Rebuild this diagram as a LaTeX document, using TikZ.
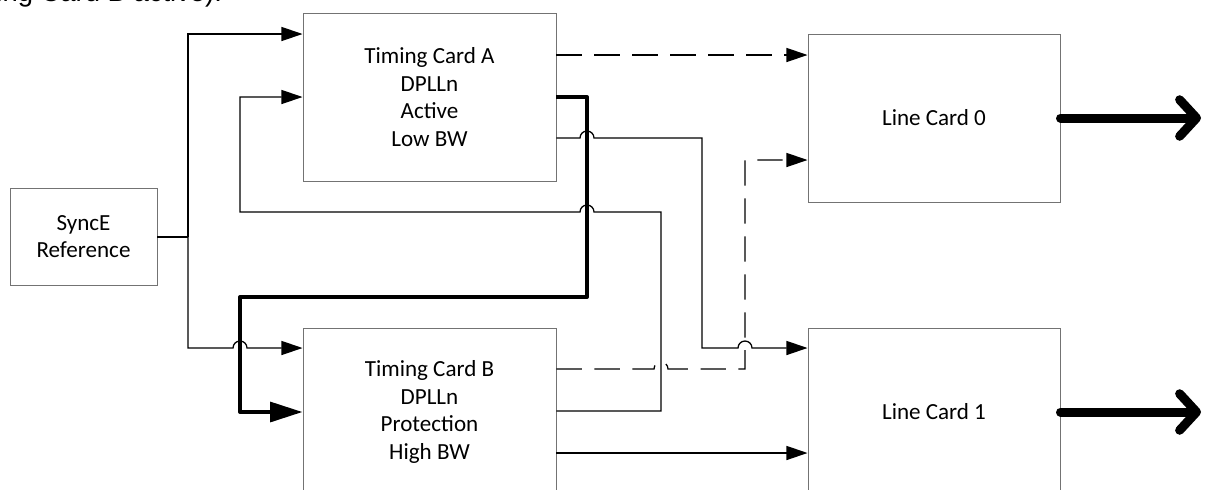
\documentclass[tikz,border=0pt]{standalone}
\usepackage{fontspec}
\setmainfont{Carlito}
\newfontfamily\capfont{Liberation Sans}
\usetikzlibrary{positioning}
\usetikzlibrary{arrows.meta}

\begin{document}
\begin{tikzpicture}[
  x=0.025cm, y=-0.025cm,
  font=\fontsize{16.4}{19.6}\selectfont,
  card/.style={draw=black!55, line width=0.7pt, align=center,
    minimum width=253*0.025cm, minimum height=168*0.025cm, inner sep=0pt},
  wire/.style={line width=0.9pt},
  dashwire/.style={wire, dash pattern=on 18pt off 9pt},
  tip/.style={-{Triangle[length=15pt,width=10pt]}},
  bigtip/.style={-{Triangle[length=23pt,width=14pt]}},
  heavy/.style={line width=2.8pt, line join=round},
  outarrow/.style={line width=6.4pt, line cap=round,
    -{Straight Barb[length=12pt,width=26pt,round]}},
]
  \useasboundingbox (0,0) rectangle (1206,489);
  \clip (0,0) rectangle (1206,489);

  \node[font=\capfont\fontsize{19.5}{22}\selectfont, anchor=base east]
    (cap) at (227,1) {ing Card B active).};

  \node[card, minimum width=147*0.025cm, minimum height=97*0.025cm]
    (sync) at (83.5,236.5) {SyncE\\Reference};
  \node[card] (tca) at (429.5,97) {Timing Card A\\DPLLn\\Active\\Low BW};
  \node[card] (tcb) at (429.5,412) {Timing Card B\\DPLLn\\Protection\\High BW};
  \node[card, minimum width=252*0.025cm] (lc0) at (934,118) {Line Card 0};
  \node[card, minimum width=252*0.025cm] (lc1) at (934,412) {Line Card 1};

  \coordinate (split) at (188,237);

  % reference to both timing cards
  \draw[wire] (sync.east |- split) -- (split);
  \draw[wire,tip] (split) |- (tca.west |- 0,34);
  \draw[wire,tip] (split) -- (188,348) -- (233,348)
    arc[start angle=180,end angle=360,radius=7] -- (tcb.west |- 0,348);

  % active card locks the protection card
  \draw[heavy,bigtip] (tca.east |- 0,97) -| (587,297) -| (240,412) -- (tcb.west |- 0,412);

  % protection card back to active card
  \draw[wire,tip] (tcb.east |- 0,411) -| (661,212) -- (594,212)
    arc[start angle=0,end angle=-180,radius=7] -- (240,212) |- (tca.west |- 0,97);

  % timing card outputs
  \draw[dashwire,tip] (tca.east |- 0,55) -- (lc0.west |- 0,55);
  \draw[wire,tip] (tca.east |- 0,138) -- (580,138)
    arc[start angle=180,end angle=360,radius=7] -| (702,348) -- (738,348)
    arc[start angle=180,end angle=360,radius=7] -- (lc1.west |- 0,348);
  \draw[dashwire,tip] (tcb.east |- 0,369) -- (654,369)
    arc[start angle=180,end angle=360,radius=7] -| (745,160) -- (lc0.west |- 0,160);
  \draw[wire,tip] (tcb.east |- 0,453) -- (lc1.west |- 0,453);

  % line card outputs
  \draw[outarrow] (lc0.east) -- (1201,118);
  \draw[outarrow] (lc1.east) -- (1201,412);
\end{tikzpicture}
\end{document}
